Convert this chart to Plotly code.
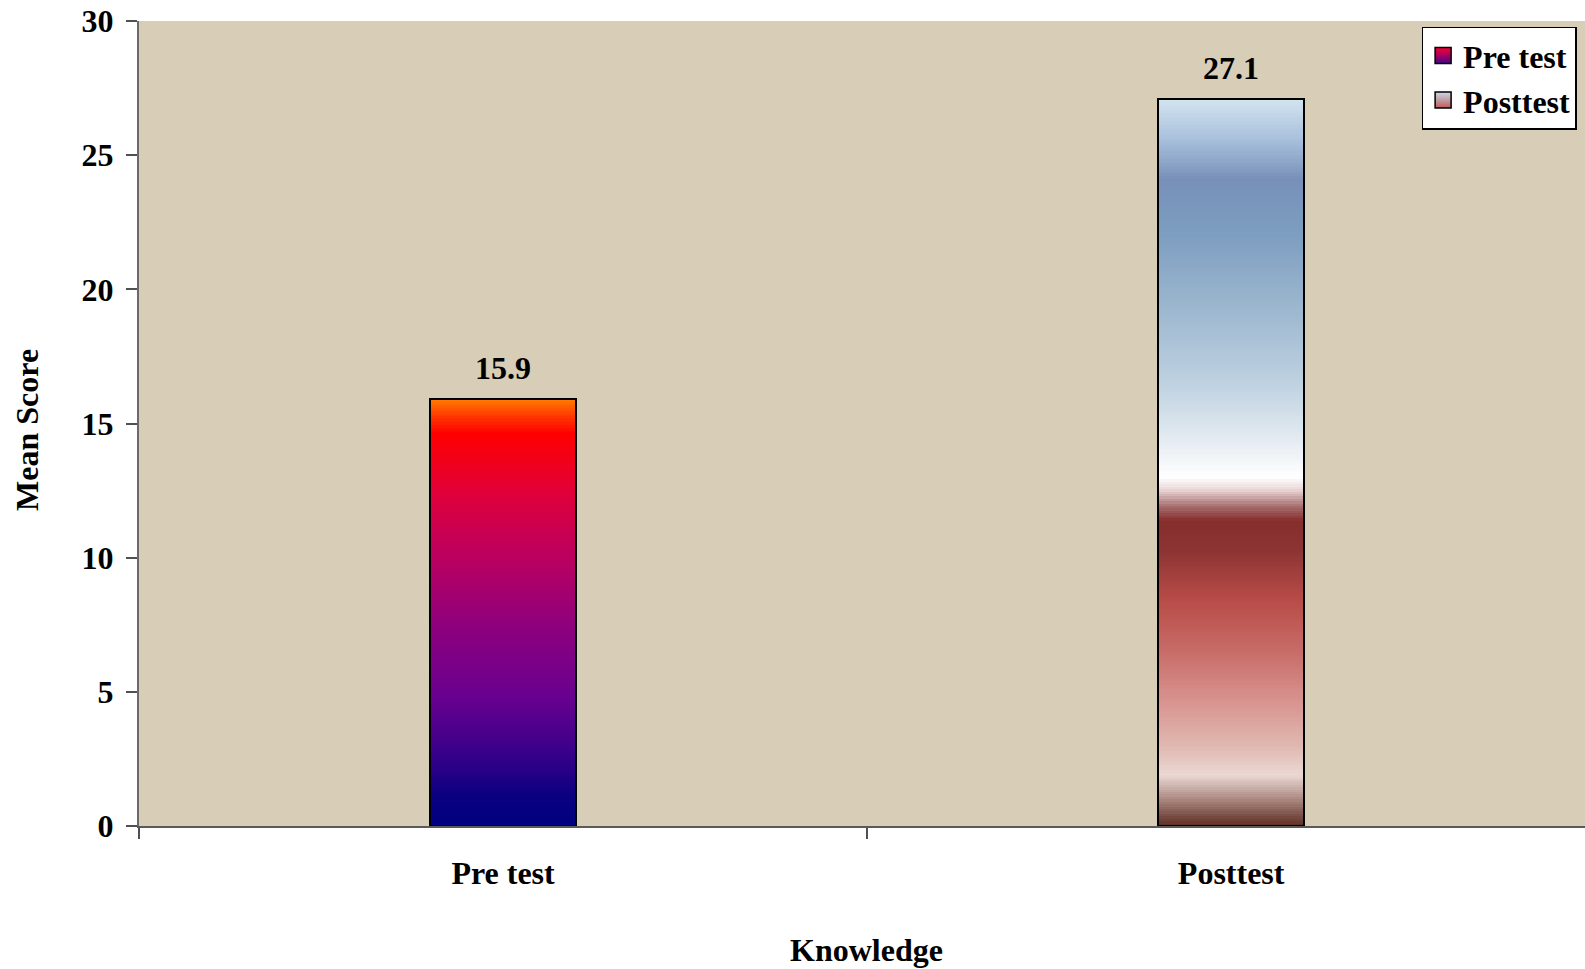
import numpy as np
import plotly.graph_objects as go

# Mean knowledge scores
categories = ["Pre test", "Posttest"]
mean_scores = [15.9, 27.1]
score_labels = ["15.9", "27.1"]
y_ticks = [0, 5, 10, 15, 20, 25, 30]

# Vertical gradient stops for each bar: (fraction of bar height from the base, colour)
GRADIENTS = {
    "Pre test": [
        (0.00, "#000080"), (0.07, "#0a0080"), (0.15, "#300088"), (0.30, "#680090"),
        (0.46, "#8c007e"), (0.62, "#b80062"), (0.78, "#e0003a"), (0.92, "#ff0000"),
        (0.955, "#ff3000"), (1.00, "#ff7a00"),
    ],
    "Posttest": [
        (0.00, "#5c2c22"), (0.043, "#b89890"), (0.07, "#ead8d4"), (0.11, "#e0b8b0"),
        (0.17, "#d89490"), (0.24, "#c86c68"), (0.31, "#b84c48"), (0.38, "#8c3434"),
        (0.42, "#862e2c"), (0.44, "#a87070"), (0.462, "#e8d4d4"), (0.479, "#ffffff"),
        (0.497, "#f6f8fa"), (0.545, "#dde6ee"), (0.614, "#bcd0e0"), (0.724, "#98b4cc"),
        (0.82, "#7c9cc0"), (0.889, "#7890b8"), (0.944, "#a8c0dc"), (1.00, "#d4e4f0"),
    ],
}
LEGEND_COLORS = {"Pre test": ("#ff0030", "#4a0090"), "Posttest": ("#c8daea", "#c05a58")}

FONT = "Liberation Serif"
FONT_SIZE = 32
BAR_WIDTH = 0.2
N_SEG = 300


def hex_to_rgb(h):
    h = h.lstrip("#")
    return np.array([int(h[i:i + 2], 16) for i in (0, 2, 4)], dtype=float)


def gradient_colors(stops, n):
    pos = np.array([s[0] for s in stops])
    rgb = np.array([hex_to_rgb(s[1]) for s in stops])
    mids = (np.arange(n) + 0.5) / n
    out = []
    for t in mids:
        c = [np.interp(t, pos, rgb[:, k]) for k in range(3)]
        out.append("rgb(%d,%d,%d)" % tuple(int(round(v)) for v in c))
    return out


def bold_font(size=FONT_SIZE):
    return dict(family=FONT, size=size, color="black", weight="bold")


fig = go.Figure()

# Each bar is painted as nested bars from the base, tallest first, so that every
# band of the vertical gradient sits on top of the previous one without seams
for cat, val in zip(categories, mean_scores):
    tops = np.linspace(0, val, N_SEG + 1)[1:]
    cols = gradient_colors(GRADIENTS[cat], N_SEG)
    fig.add_trace(go.Bar(
        x=[cat] * N_SEG, y=tops[::-1], width=BAR_WIDTH,
        marker=dict(color=cols[::-1], line=dict(width=0)),
        showlegend=False, hoverinfo="skip",
    ))

# Outline of each bar
fig.add_trace(go.Bar(
    x=categories, y=mean_scores, width=BAR_WIDTH,
    marker=dict(color="rgba(0,0,0,0)", line=dict(color="black", width=2)),
    showlegend=False, hoverinfo="skip",
))

# Legend entries
for cat in categories:
    top, bottom = LEGEND_COLORS[cat]
    fig.add_trace(go.Scatter(
        x=[None], y=[None], mode="markers", name=cat,
        marker=dict(symbol="square", size=16, color=top,
                    gradient=dict(type="vertical", color=bottom),
                    line=dict(color="black", width=1.5)),
    ))

# Value labels above bars
for cat, val, lab in zip(categories, mean_scores, score_labels):
    fig.add_annotation(x=cat, y=val, text=lab, showarrow=False, yanchor="bottom",
                       yshift=11, font=bold_font())

# Axis titles
fig.add_annotation(x=0.503, y=-0.154, xref="paper", yref="paper", text="Knowledge",
                   showarrow=False, xanchor="center", yanchor="middle", font=bold_font())
fig.add_annotation(x=-0.0775, y=0.492, xref="paper", yref="paper", text="Mean Score",
                   showarrow=False, textangle=-90, xanchor="center", yanchor="middle",
                   font=bold_font())

fig.update_layout(
    width=1585, height=969,
    margin=dict(l=139, r=0, t=21, b=143),
    paper_bgcolor="white", plot_bgcolor="#d8cdb6",
    barmode="overlay", bargap=0,
    showlegend=True,
    legend=dict(x=0.887, y=0.993, xanchor="left", yanchor="top",
                bgcolor="white", bordercolor="black", borderwidth=1.5,
                font=bold_font(), itemsizing="trace"),
    font=dict(family=FONT, color="black"),
)

fig.update_xaxes(
    type="category", range=[-0.5, 1.486], tickson="boundaries",
    ticks="outside", ticklen=11, tickwidth=1.5, tickcolor="#505050",
    showline=True, linecolor="#5a5a5a", linewidth=2, showgrid=False, zeroline=False,
    tickfont=bold_font(), ticklabelstandoff=18,
)
fig.update_yaxes(
    range=[0, 30], tickvals=y_ticks, ticktext=[str(v) for v in y_ticks],
    ticks="outside", ticklen=11, tickwidth=1.5, tickcolor="#505050",
    showline=True, linecolor="#6a6a6a", linewidth=2, showgrid=False, zeroline=False,
    tickfont=bold_font(), ticklabelstandoff=6,
)

fig.write_html("out.html")
